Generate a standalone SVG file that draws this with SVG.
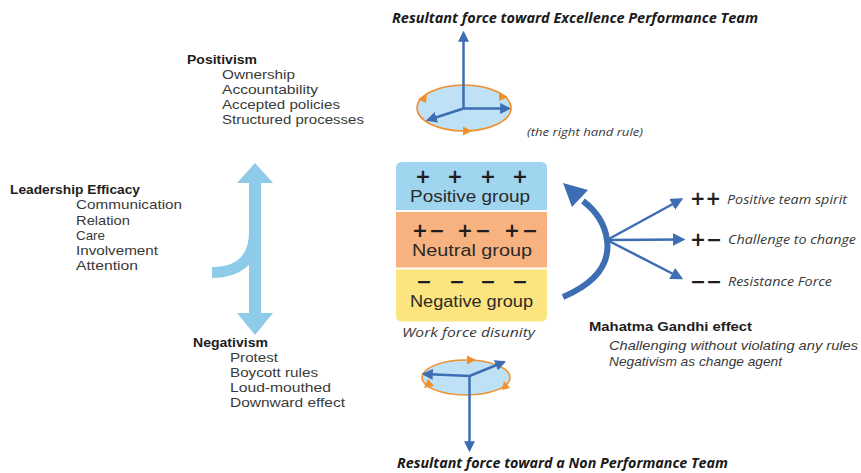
<svg xmlns="http://www.w3.org/2000/svg" width="861" height="473" viewBox="0 0 861 473">
  <defs>
    <style>
      text { font-family: "Open Sans", "Noto Sans", "Liberation Sans", sans-serif; fill: #2e2e2e; }
      .head { font-family: "Liberation Sans", "Open Sans", sans-serif; font-weight: bold; font-size: 13.4px; fill: #1e1e1e; }
      .item { font-family: "Liberation Sans", "Open Sans", sans-serif; font-size: 13.4px; fill: #3a3a3a; }
      .title { font-weight: bold; font-style: italic; font-size: 13.5px; fill: #1a1a1a; }
      .grp { font-family: "Liberation Sans", "Open Sans", sans-serif; font-size: 16px; fill: #2a2a2a; }
      .sym { font-family: "DejaVu Sans", "Liberation Sans", sans-serif; font-weight: bold; font-size: 19px; fill: #1e1e1e; }
      .lbl { font-style: italic; font-size: 13px; fill: #3a3a3a; }
      .note { font-family: "Liberation Sans", "Open Sans", sans-serif; font-style: italic; font-size: 13px; fill: #3a3a3a; }
      .small { font-style: italic; font-size: 11px; fill: #3a3a3a; }
      .vec { stroke: #3d6db2; stroke-width: 2.5; fill: none; }
      .disc { fill: #bfe1f6; stroke: #f0902c; stroke-width: 1.6; }
      .tick { fill: #f0902c; }
    </style>
    <marker id="ah" viewBox="0 0 10 10" refX="8" refY="5" markerWidth="4.4" markerHeight="4.4" orient="auto" markerUnits="strokeWidth">
      <path d="M0,0 L10,5 L0,10 Z" fill="#3d6db2"/>
    </marker>
    <marker id="ahf" viewBox="0 0 10 10" refX="8" refY="5" markerWidth="5" markerHeight="5" orient="auto" markerUnits="strokeWidth">
      <path d="M0,0 L10,5 L0,10 Z" fill="#3d6db2"/>
    </marker>
  </defs>

  <rect width="861" height="473" fill="#ffffff"/>

  <!-- connectors: vectors, spin arrows and the leadership arrow -->
  <g id="connectors">
    <!-- leadership arrow (light blue) -->
    <g id="leadership-arrow" fill="#8ecbe9">
      <rect x="249" y="181" width="12" height="134"/>
      <path d="M255,163 L273,183 L237,183 Z"/>
      <path d="M255,335 L273,313 L237,313 Z"/>
      <path d="M212,272.5 C236,272.5 254.5,262 254.5,232" fill="none" stroke="#8ecbe9" stroke-width="11"/>
    </g>

    <!-- upper spin: resultant upward -->
    <g id="spin-up">
      <ellipse class="disc" cx="464" cy="108" rx="47" ry="23"/>
      <path class="tick" d="M418,99 L427,94 L426,103 Z"/>
      <path class="tick" d="M508,97 L499,92 L499,101 Z"/>
      <path class="tick" d="M472,131 L463,126.5 L463,135.5 Z"/>
      <line class="vec" x1="463.5" y1="108.5" x2="463.5" y2="33" marker-end="url(#ah)"/>
      <line class="vec" x1="463.5" y1="108.5" x2="509" y2="108.5" marker-end="url(#ah)"/>
      <line class="vec" x1="463.5" y1="108.5" x2="428" y2="120" marker-end="url(#ah)"/>
    </g>

    <!-- lower spin: resultant downward -->
    <g id="spin-down">
      <ellipse class="disc" cx="466" cy="377.5" rx="44" ry="17.5"/>
      <path class="tick" d="M476,360 L467,355.5 L467,364.5 Z"/>
      <path class="tick" d="M424,388 L428,379 L434,386 Z"/>
      <path class="tick" d="M502,390 L504,381 L510,388 Z"/>
      <line class="vec" x1="469.5" y1="376" x2="424" y2="374" marker-end="url(#ah)"/>
      <line class="vec" x1="469.5" y1="376" x2="504" y2="362" marker-end="url(#ah)"/>
      <line class="vec" x1="469.5" y1="376" x2="469.5" y2="450" marker-end="url(#ah)"/>
    </g>

    <!-- curved push back toward the positive group -->
    <path d="M563,297 Q612,276 607,240 Q604,217 583,201" fill="none" stroke="#3d6db2" stroke-width="6"/>
    <path d="M563,183 L588,190 L572,207 Z" fill="#3d6db2"/>

    <!-- fan of outcomes -->
    <line class="vec" x1="607" y1="240" x2="681" y2="199.5" marker-end="url(#ahf)"/>
    <line class="vec" x1="607" y1="240" x2="683" y2="239.5" marker-end="url(#ahf)"/>
    <line class="vec" x1="607" y1="240" x2="681" y2="278" marker-end="url(#ahf)"/>
  </g>

  <!-- titles -->
  <text id="title-top" class="title" x="392" y="23" textLength="366" lengthAdjust="spacingAndGlyphs">Resultant force toward Excellence Performance Team</text>
  <text id="title-bottom" class="title" x="397" y="468" textLength="331" lengthAdjust="spacingAndGlyphs">Resultant force toward a Non Performance Team</text>
  <text id="rule-note" class="small" x="527" y="136" textLength="116" lengthAdjust="spacingAndGlyphs">(the right hand rule)</text>

  <!-- Positivism -->
  <g id="positivism">
    <text class="head" x="187" y="64" textLength="70" lengthAdjust="spacingAndGlyphs">Positivism</text>
    <text class="item" x="222" y="79" textLength="73" lengthAdjust="spacingAndGlyphs">Ownership</text>
    <text class="item" x="222" y="94" textLength="96" lengthAdjust="spacingAndGlyphs">Accountability</text>
    <text class="item" x="222" y="109" textLength="118" lengthAdjust="spacingAndGlyphs">Accepted policies</text>
    <text class="item" x="222" y="124" textLength="142" lengthAdjust="spacingAndGlyphs">Structured processes</text>
  </g>

  <!-- Leadership Efficacy -->
  <g id="leadership">
    <text class="head" x="10" y="194" textLength="130" lengthAdjust="spacingAndGlyphs">Leadership Efficacy</text>
    <text class="item" x="76" y="209" textLength="106" lengthAdjust="spacingAndGlyphs">Communication</text>
    <text class="item" x="76" y="224.5" textLength="54" lengthAdjust="spacingAndGlyphs">Relation</text>
    <text class="item" x="76" y="240" textLength="29" lengthAdjust="spacingAndGlyphs">Care</text>
    <text class="item" x="76" y="255" textLength="82" lengthAdjust="spacingAndGlyphs">Involvement</text>
    <text class="item" x="76" y="270" textLength="62" lengthAdjust="spacingAndGlyphs">Attention</text>
  </g>

  <!-- Negativism -->
  <g id="negativism">
    <text class="head" x="193" y="347" textLength="75" lengthAdjust="spacingAndGlyphs">Negativism</text>
    <text class="item" x="230" y="362" textLength="48" lengthAdjust="spacingAndGlyphs">Protest</text>
    <text class="item" x="230" y="377" textLength="88" lengthAdjust="spacingAndGlyphs">Boycott rules</text>
    <text class="item" x="230" y="392" textLength="101" lengthAdjust="spacingAndGlyphs">Loud-mouthed</text>
    <text class="item" x="230" y="407" textLength="115" lengthAdjust="spacingAndGlyphs">Downward effect</text>
  </g>

  <!-- work force groups -->
  <g id="positive-group">
    <path d="M396,168 Q396,162 402,162 L541,162 Q547,162 547,168 L547,210 L396,210 Z" fill="#a0d5ef"/>
    <text class="sym" text-anchor="middle" x="423 455 488 520" y="183">++++</text>
    <text class="grp" x="410" y="202" textLength="120" lengthAdjust="spacingAndGlyphs">Positive group</text>
  </g>
  <g id="neutral-group">
    <rect x="396" y="212" width="151" height="55.5" fill="#f7b27f"/>
    <text class="sym" text-anchor="middle" x="420 437 465 483 512 530" y="237">+−+−+−</text>
    <text class="grp" x="412" y="256" textLength="120" lengthAdjust="spacingAndGlyphs">Neutral group</text>
  </g>
  <g id="negative-group">
    <path d="M396,269.5 L547,269.5 L547,315 Q547,321.5 541,321.5 L402,321.5 Q396,321.5 396,315 Z" fill="#fce47f"/>
    <text class="sym" text-anchor="middle" x="424 457 488 520" y="288">−−−−</text>
    <text class="grp" x="410" y="307" textLength="123" lengthAdjust="spacingAndGlyphs">Negative group</text>
  </g>
  <text id="disunity" class="lbl" x="402" y="337" font-size="14" textLength="133" lengthAdjust="spacingAndGlyphs">Work force disunity</text>

  <!-- outcomes -->
  <g id="outcome-positive">
    <text class="sym" x="690" y="205" textLength="31" lengthAdjust="spacingAndGlyphs">++</text>
    <text class="lbl" x="727" y="204" textLength="120" lengthAdjust="spacingAndGlyphs">Positive team spirit</text>
  </g>
  <g id="outcome-challenge">
    <text class="sym" x="690" y="246" textLength="32" lengthAdjust="spacingAndGlyphs">+−</text>
    <text class="lbl" x="728" y="244" textLength="128" lengthAdjust="spacingAndGlyphs">Challenge to change</text>
  </g>
  <g id="outcome-resistance">
    <text class="sym" x="690" y="288" textLength="32" lengthAdjust="spacingAndGlyphs">−−</text>
    <text class="lbl" x="728" y="286" textLength="104" lengthAdjust="spacingAndGlyphs">Resistance Force</text>
  </g>

  <!-- Mahatma Gandhi effect -->
  <g id="gandhi">
    <text class="head" x="589" y="331" textLength="163" lengthAdjust="spacingAndGlyphs">Mahatma Gandhi effect</text>
    <text class="note" x="609" y="350" textLength="249" lengthAdjust="spacingAndGlyphs">Challenging without violating any rules</text>
    <text class="note" x="609" y="366" textLength="173" lengthAdjust="spacingAndGlyphs">Negativism as change agent</text>
  </g>
</svg>
